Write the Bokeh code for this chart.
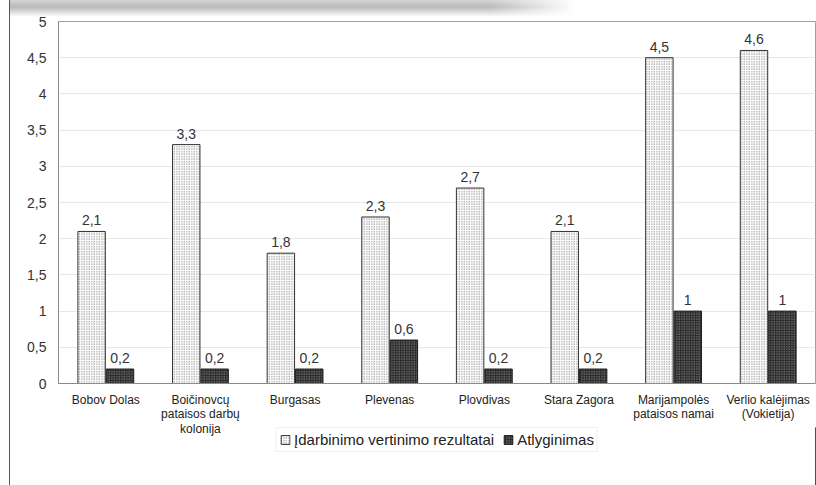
from bokeh.plotting import figure
from bokeh.layouts import column
from bokeh.models import ColumnDataSource, FixedTicker, Legend, LegendItem, LabelSet
from bokeh.transform import dodge
from bokeh.core.properties import value
from bokeh.embed import file_html
from bokeh.resources import INLINE

categories = ["Bobov Dolas", "Boičinovcų\npataisos darbų\nkolonija", "Burgasas", "Plevenas",
              "Plovdivas", "Stara Zagora", "Marijampolės\npataisos namai", "Verlio kalėjimas\n(Vokietija)"]
idarbinimas = [2.1, 3.3, 1.8, 2.3, 2.7, 2.1, 4.5, 4.6]
atlyginimas = [0.2, 0.2, 0.2, 0.6, 0.2, 0.2, 1.0, 1.0]
series_names = ["Įdarbinimo vertinimo rezultatai", "Atlyginimas"]
y_ticks = [0, 0.5, 1, 1.5, 2, 2.5, 3, 3.5, 4, 4.5, 5]

def fmt(v):
    return ("%g" % v).replace(".", ",")

src = ColumnDataSource(dict(
    cat=categories,
    a=idarbinimas,
    b=atlyginimas,
    a_lbl=[fmt(v) for v in idarbinimas],
    b_lbl=[fmt(v) for v in atlyginimas],
))

FONT = "Liberation Sans"
light_style = dict(fill_color="white", line_color="#333333", line_width=1,
                   hatch_pattern=".", hatch_color="#6f6f6f", hatch_scale=2.5, hatch_weight=1)
dark_style = dict(fill_color="#2b2b2b", line_color="#1e1e1e", line_width=1,
                  hatch_pattern=".", hatch_color="#a0a0a0", hatch_scale=2.5, hatch_weight=1)

p = figure(x_range=categories, y_range=(0, 5), width=806, height=445,
           output_backend="svg", toolbar_location=None,
           min_border_left=48, min_border_right=1, min_border_top=21, min_border_bottom=62)
p.border_fill_alpha = 0

r1 = p.vbar(x=dodge("cat", -0.15, range=p.x_range), top="a", width=0.29, source=src, **light_style)
r2 = p.vbar(x=dodge("cat", 0.15, range=p.x_range), top="b", width=0.29, source=src, **dark_style)

for col, lbl, off in (("a", "a_lbl", -0.15), ("b", "b_lbl", 0.15)):
    p.add_layout(LabelSet(x=dodge("cat", off, range=p.x_range), y=col, text=lbl, source=src,
                          text_align="center", text_baseline="bottom", y_offset=6,
                          text_font=value(FONT), text_font_size="14px", text_color="#333333"))

p.yaxis.ticker = FixedTicker(ticks=y_ticks)
p.yaxis.major_label_overrides = {t: fmt(t) for t in y_ticks}
p.yaxis.major_label_text_font = FONT
p.yaxis.major_label_text_font_size = "14px"
p.yaxis.major_label_text_color = "#333333"
p.yaxis.axis_line_color = "#8a8a8a"
p.yaxis.major_tick_line_color = None
p.yaxis.minor_tick_line_color = None
p.yaxis.major_tick_out = 0
p.yaxis.major_tick_in = 0
p.yaxis.major_label_standoff = 12

p.xaxis.major_label_text_font = FONT
p.xaxis.major_label_text_font_size = "12px"
p.xaxis.major_label_text_color = "#222222"
p.xaxis.major_label_text_line_height = 1.05
p.xaxis.axis_line_color = "#8a8a8a"
p.xaxis.major_tick_line_color = None
p.xaxis.major_tick_out = 0
p.xaxis.major_tick_in = 0
p.xaxis.major_label_standoff = 9

p.xgrid.grid_line_color = None
p.ygrid.grid_line_color = "#e8e8e8"
p.outline_line_color = "#a0a0a0"

# legend strip below the chart (transparent, overlapping the lower axis area)
leg = figure(width=806, height=58, x_range=(0, 1), y_range=(0, 1),
             output_backend="svg", toolbar_location=None,
             x_axis_type=None, y_axis_type=None,
             min_border_left=0, min_border_right=0, min_border_top=0, min_border_bottom=0)
leg.outline_line_color = None
leg.xgrid.grid_line_color = None
leg.ygrid.grid_line_color = None
leg.background_fill_alpha = 0
leg.border_fill_alpha = 0
leg.margin = (-18, 0, 0, 0)
dummy = ColumnDataSource(dict(x=[10], top=[10]))
d1 = leg.vbar(x="x", top="top", width=0.1, source=dummy, **light_style)
d2 = leg.vbar(x="x", top="top", width=0.1, source=dummy, **dark_style)

legend = Legend(items=[LegendItem(label=series_names[0], renderers=[d1]),
                       LegendItem(label=series_names[1], renderers=[d2])],
                orientation="horizontal", location="top",
                label_text_font=FONT, label_text_font_size="15px",
                label_text_color="#222222", glyph_width=11, glyph_height=11,
                label_standoff=4, spacing=8, padding=3, margin=0,
                border_line_color="#e0e0e0", background_fill_color="white")
leg.add_layout(legend)

layout = column(p, leg, spacing=0,
                styles={"margin-left": "9px", "border-left": "1px solid #555555",
                        "background-image": "linear-gradient(to right, rgba(255,255,255,0) 480px, #ffffff 565px), "
                                            "linear-gradient(to bottom, #d4d4d4 0px, #b9b9b9 7px, #ffffff 17px)",
                        "background-size": "600px 17px, 600px 17px",
                        "background-repeat": "no-repeat, no-repeat"})
open("out.html", "w").write(file_html(layout, INLINE))
